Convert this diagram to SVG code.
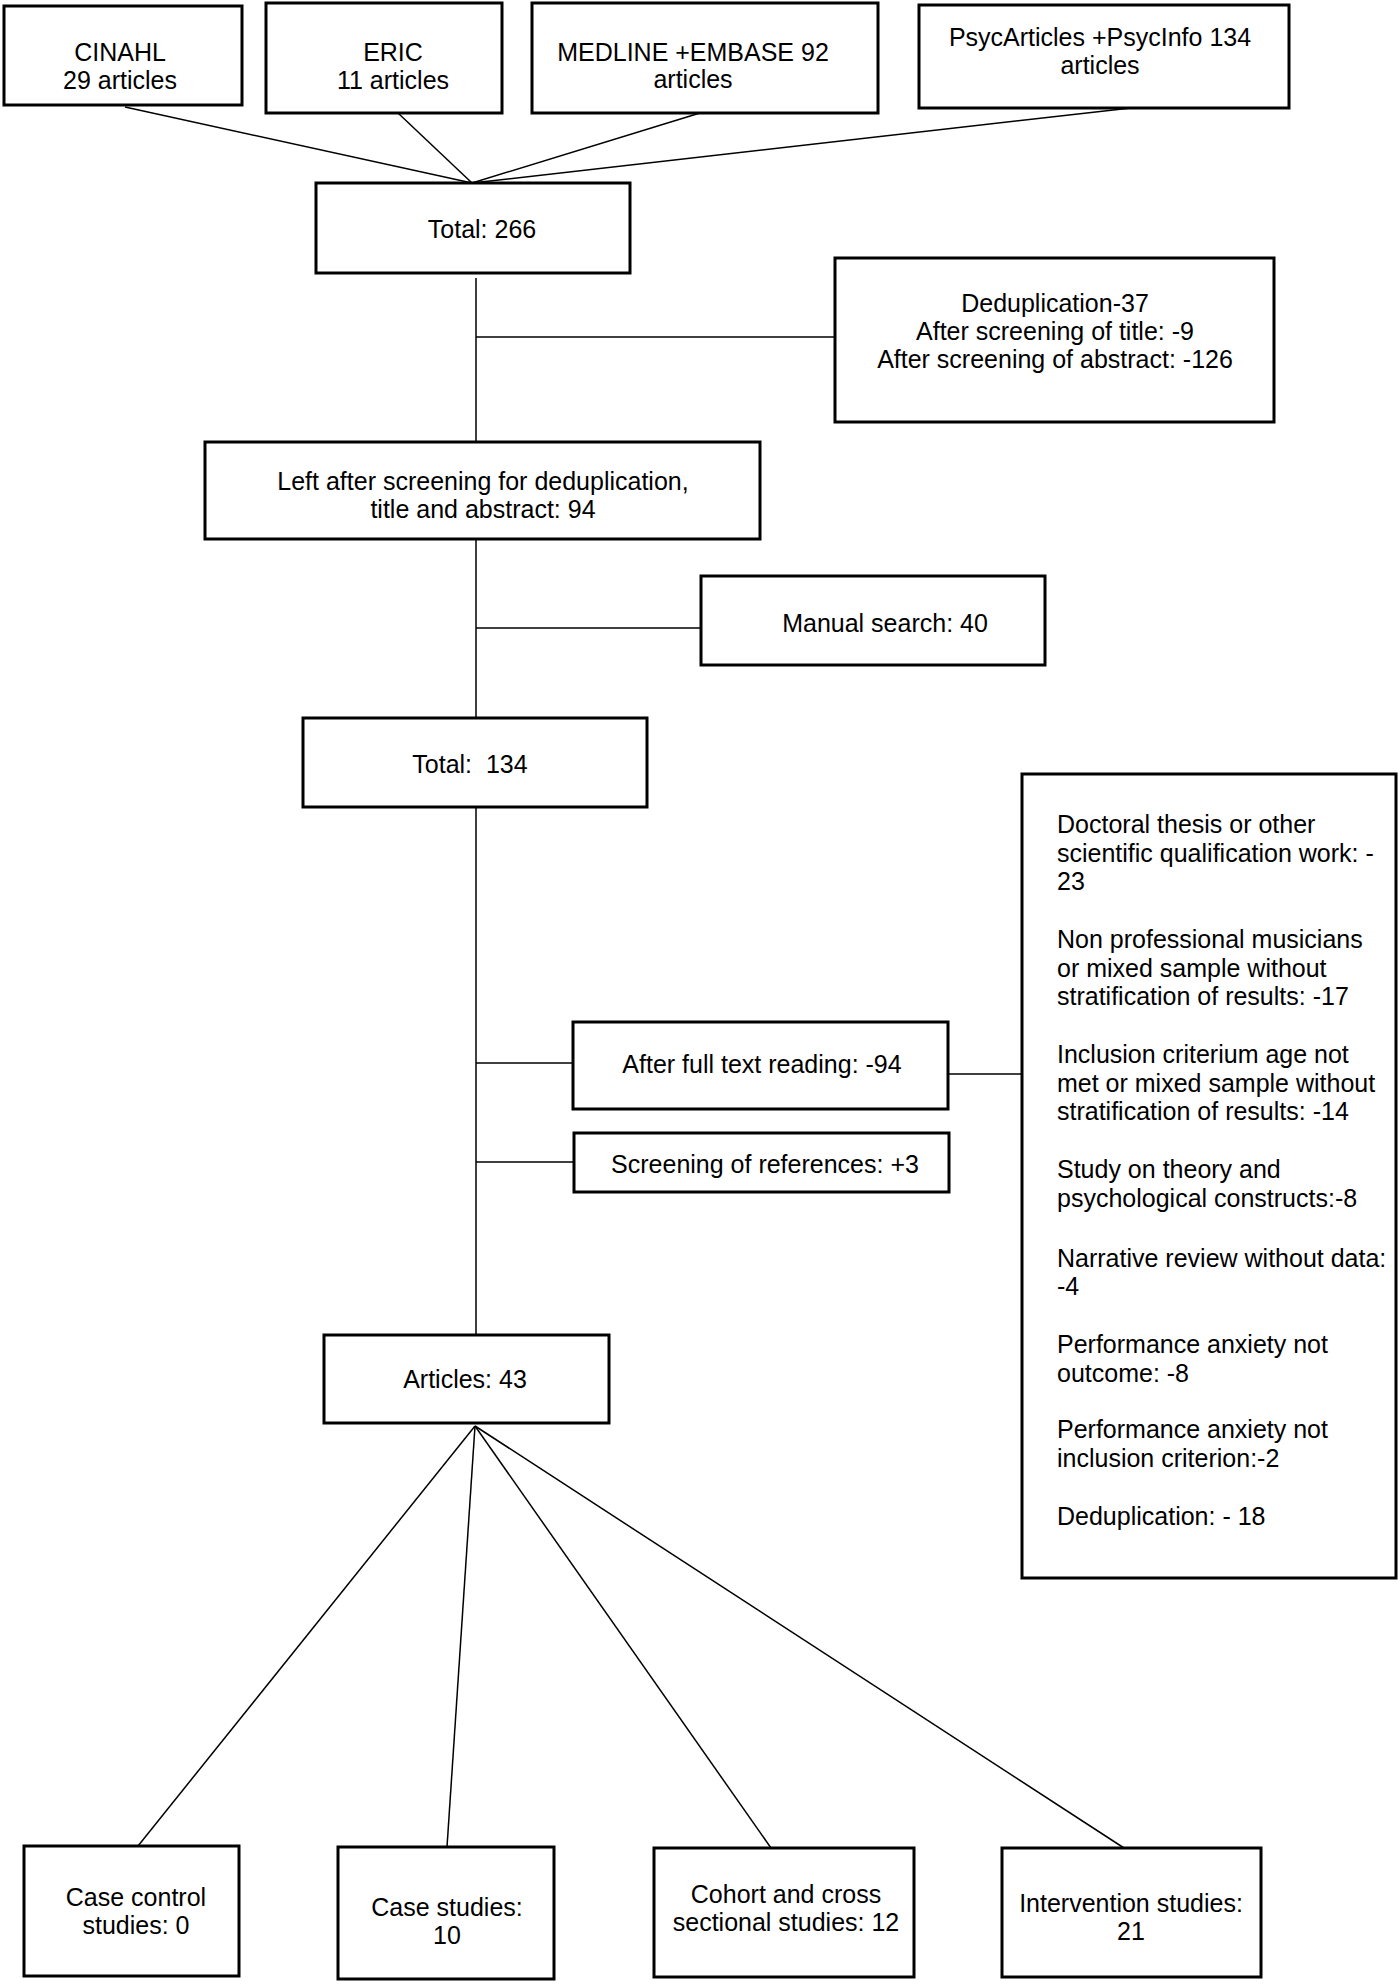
<svg xmlns="http://www.w3.org/2000/svg" width="1400" height="1984" viewBox="0 0 1400 1984">
<style>
.box{fill:#fff;stroke:#000;stroke-width:3}
.t{font-family:"Liberation Sans",Arial,sans-serif;font-size:25px;fill:#000}
.c{text-anchor:middle}
.conn line{stroke:#000;stroke-width:1.5}
</style>
<rect width="1400" height="1984" fill="#fff"/>
<g id="connectors" class="conn">
<line x1="125" y1="107" x2="472" y2="183"/>
<line x1="398" y1="113" x2="472" y2="183"/>
<line x1="700" y1="113" x2="472" y2="183"/>
<line x1="1131" y1="108" x2="472" y2="183"/>
<line x1="476" y1="278" x2="476" y2="442"/>
<line x1="476" y1="337" x2="835" y2="337"/>
<line x1="476" y1="539" x2="476" y2="718"/>
<line x1="476" y1="628" x2="701" y2="628"/>
<line x1="476" y1="807" x2="476" y2="1335"/>
<line x1="476" y1="1063" x2="573" y2="1063"/>
<line x1="476" y1="1162" x2="574" y2="1162"/>
<line x1="948" y1="1074" x2="1022" y2="1074"/>
<line x1="475" y1="1426" x2="138" y2="1846"/>
<line x1="475" y1="1426" x2="447" y2="1847"/>
<line x1="475" y1="1426" x2="771" y2="1848"/>
<line x1="475" y1="1426" x2="1124" y2="1848"/>
</g>
<g id="cinahl"><rect class="box" x="4" y="6" width="238" height="99"/>
<text class="t c" x="120" y="61">CINAHL</text><text class="t c" x="120" y="89">29 articles</text></g>
<g id="eric"><rect class="box" x="266" y="3" width="236" height="110"/>
<text class="t c" x="393" y="61">ERIC</text><text class="t c" x="393" y="89">11 articles</text></g>
<g id="medline"><rect class="box" x="532" y="3" width="346" height="110"/>
<text class="t c" x="693" y="61">MEDLINE +EMBASE 92</text><text class="t c" x="693" y="88">articles</text></g>
<g id="psyc"><rect class="box" x="919" y="5" width="370" height="103"/>
<text class="t c" x="1100" y="46">PsycArticles +PsycInfo 134</text><text class="t c" x="1100" y="74">articles</text></g>
<g id="total266"><rect class="box" x="316" y="183" width="314" height="90"/>
<text class="t c" x="482" y="238">Total: 266</text></g>
<g id="dedup"><rect class="box" x="835" y="258" width="439" height="164"/>
<text class="t c" x="1055" y="312">Deduplication-37</text>
<text class="t c" x="1055" y="340">After screening of title: -9</text>
<text class="t c" x="1055" y="368">After screening of abstract: -126</text></g>
<g id="left94"><rect class="box" x="205" y="442" width="555" height="97"/>
<text class="t c" x="483" y="490">Left after screening for deduplication,</text>
<text class="t c" x="483" y="518">title and abstract: 94</text></g>
<g id="manual"><rect class="box" x="701" y="576" width="344" height="89"/>
<text class="t c" x="885" y="632">Manual search: 40</text></g>
<g id="total134"><rect class="box" x="303" y="718" width="344" height="89"/>
<text class="t c" x="470" y="773" style="white-space:pre">Total:  134</text></g>
<g id="fulltext"><rect class="box" x="573" y="1022" width="375" height="87"/>
<text class="t c" x="762" y="1073">After full text reading: -94</text></g>
<g id="references"><rect class="box" x="574" y="1133" width="375" height="59"/>
<text class="t c" x="765" y="1173">Screening of references: +3</text></g>
<g id="exclusions"><rect class="box" x="1022" y="774" width="374" height="804"/>
<text class="t" x="1057" y="833">Doctoral thesis or other</text>
<text class="t" x="1057" y="862">scientific qualification work: -</text>
<text class="t" x="1057" y="890">23</text>
<text class="t" x="1057" y="948">Non professional musicians</text>
<text class="t" x="1057" y="977">or mixed sample without</text>
<text class="t" x="1057" y="1005">stratification of results: -17</text>
<text class="t" x="1057" y="1063">Inclusion criterium age not</text>
<text class="t" x="1057" y="1092">met or mixed sample without</text>
<text class="t" x="1057" y="1120">stratification of results: -14</text>
<text class="t" x="1057" y="1178">Study on theory and</text>
<text class="t" x="1057" y="1207">psychological constructs:-8</text>
<text class="t" x="1057" y="1267">Narrative review without data:</text>
<text class="t" x="1057" y="1295">-4</text>
<text class="t" x="1057" y="1353">Performance anxiety not</text>
<text class="t" x="1057" y="1382">outcome: -8</text>
<text class="t" x="1057" y="1438">Performance anxiety not</text>
<text class="t" x="1057" y="1467">inclusion criterion:-2</text>
<text class="t" x="1057" y="1525">Deduplication: - 18</text></g>
<g id="articles43"><rect class="box" x="324" y="1335" width="285" height="88"/>
<text class="t c" x="465" y="1388">Articles: 43</text></g>
<g id="casecontrol"><rect class="box" x="24" y="1846" width="215" height="130"/>
<text class="t c" x="136" y="1906">Case control</text><text class="t c" x="136" y="1934">studies: 0</text></g>
<g id="casestudies"><rect class="box" x="338" y="1847" width="216" height="132"/>
<text class="t c" x="447" y="1916">Case studies:</text><text class="t c" x="447" y="1944">10</text></g>
<g id="cohort"><rect class="box" x="654" y="1848" width="260" height="129"/>
<text class="t c" x="786" y="1903">Cohort and cross</text><text class="t c" x="786" y="1931">sectional studies: 12</text></g>
<g id="intervention"><rect class="box" x="1002" y="1848" width="259" height="129"/>
<text class="t c" x="1131" y="1912">Intervention studies:</text><text class="t c" x="1131" y="1940">21</text></g>
</svg>
